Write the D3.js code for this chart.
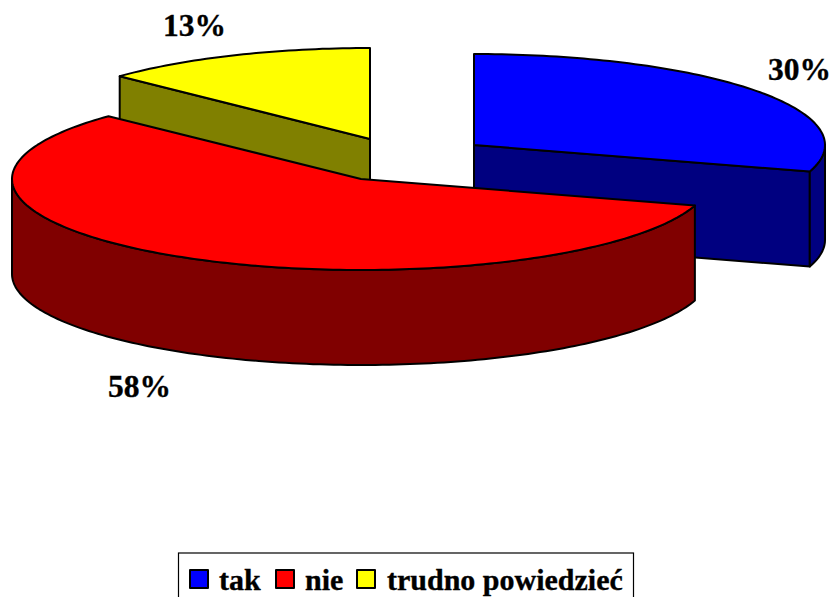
<!DOCTYPE html>
<html>
<head>
<meta charset="utf-8">
<script src="https://cdn.jsdelivr.net/npm/d3@7"></script>
<style>
html,body{margin:0;padding:0;background:#fff;overflow:hidden}
text{font-family:"Liberation Serif","Times New Roman",serif;font-weight:bold;fill:#000;stroke:#000;stroke-width:0.35}
</style>
</head>
<body>
<svg id="c" width="834" height="597"></svg>
<script>
const categories = ["tak", "nie", "trudno powiedzieć"];
const values = [30, 58, 13];
const labels = ["30%", "58%", "13%"];
const topColors = ["#0000ff", "#ff0000", "#ffff00"];
const sideColors = ["#000080", "#800000", "#808000"];

const W = 834, H = 597;
const depth = 95, ry = 91;
const centers = [
  {x: 474, y: 145, rx: 351},
  {x: 361, y: 179, rx: 349},
  {x: 370, y: 139, rx: 346}
];
const labelPos = [
  {x: 768, y: 80},
  {x: 108, y: 397},
  {x: 163, y: 36}
];
const legendLayout = {
  box: {x: 178.5, y: 553, w: 455, h: 60},
  swatch: [190, 276, 357],
  text: [219, 305, 387],
  swatchY: 570, swatchS: 18, baseline: 590
};

const svg = d3.select("#c");
const arcs = d3.pie().sort(null).value(d => d)(values);

const pt = (c, a) => [c.x + c.rx * Math.sin(a), c.y - ry * Math.cos(a)];
const line = d3.line();
const samples = (a0, a1) => {
  const n = Math.max(2, Math.ceil(Math.abs(a1 - a0) / 0.02));
  return d3.range(n + 1).map(i => a0 + (a1 - a0) * i / n);
};

function sidePath(c, a0, a1) {
  const rim = samples(a0, a1).map(a => pt(c, a));
  const low = rim.slice().reverse().map(p => [p[0], p[1] + depth]);
  return line(rim.concat(low)) + "Z";
}
function topPath(c, a0, a1) {
  return line([[c.x, c.y]].concat(samples(a0, a1).map(a => pt(c, a)))) + "Z";
}
function radialWall(c, a) {
  const p = pt(c, a);
  return line([[c.x, c.y], p, [p[0], p[1] + depth], [c.x, c.y + depth]]) + "Z";
}

function styled(sel, fill) {
  sel.attr("fill", fill).attr("stroke", "#000")
     .attr("stroke-width", 2)
     .attr("stroke-linejoin", "round");
}

// draw order back to front: blue, yellow, red
[0, 2, 1].forEach(i => {
  const d = arcs[i], c = centers[i];
  const g = svg.append("g").attr("class", "slice");
  if (i === 0) {
    styled(g.append("path").attr("d", radialWall(c, d.endAngle)), sideColors[i]);
    styled(g.append("path").attr("d", sidePath(c, Math.PI / 2, d.endAngle)), sideColors[i]);
  } else if (i === 1) {
    styled(g.append("path").attr("d", sidePath(c, d.startAngle, 1.5 * Math.PI)), sideColors[i]);
  } else {
    styled(g.append("path").attr("d", radialWall(c, d.startAngle)), sideColors[i]);
  }
  styled(g.append("path").attr("d", topPath(c, d.startAngle, d.endAngle)), topColors[i]);
});

// data labels
svg.append("g").selectAll("text").data(labels).join("text")
  .attr("x", (d, i) => labelPos[i].x)
  .attr("y", (d, i) => labelPos[i].y)
  .attr("font-size", 31.5)
  .text(d => d);

// legend
const L = legendLayout;
const lg = svg.append("g").attr("class", "legend");
lg.append("rect").attr("x", L.box.x).attr("y", L.box.y)
  .attr("width", L.box.w).attr("height", L.box.h)
  .attr("fill", "#fff").attr("stroke", "#000").attr("stroke-width", 1.2);
categories.forEach((name, i) => {
  styled(lg.append("rect").attr("x", L.swatch[i]).attr("y", L.swatchY)
    .attr("width", L.swatchS).attr("height", L.swatchS), topColors[i]);
  lg.append("text").attr("x", L.text[i]).attr("y", L.baseline)
    .attr("font-size", 30).text(name);
});
</script>
</body>
</html>
